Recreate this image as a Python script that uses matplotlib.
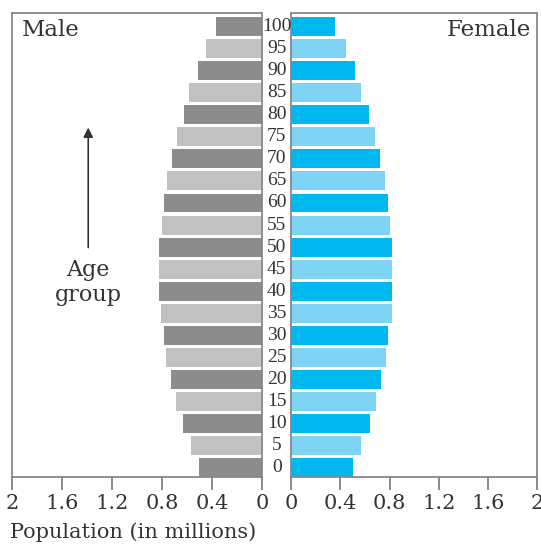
import matplotlib
matplotlib.use("Agg")
import matplotlib.pyplot as plt
import numpy as np

plt.rcParams['font.family'] = ['DejaVu Serif']

ages = [0, 5, 10, 15, 20, 25, 30, 35, 40, 45, 50, 55, 60, 65, 70, 75, 80, 85, 90, 95, 100]
male = [0.50, 0.57, 0.63, 0.69, 0.73, 0.77, 0.78, 0.81, 0.82, 0.82, 0.82,
        0.80, 0.78, 0.76, 0.72, 0.68, 0.62, 0.58, 0.51, 0.45, 0.37]
female = [0.50, 0.57, 0.64, 0.69, 0.73, 0.77, 0.79, 0.82, 0.82, 0.82, 0.82,
          0.80, 0.79, 0.76, 0.72, 0.68, 0.63, 0.57, 0.52, 0.45, 0.36]
xticks = [0, 0.4, 0.8, 1.2, 1.6, 2]
xticklabels = ['0', '0.4', '0.8', '1.2', '1.6', '2']

male_cols = ['#8c8c8e', '#c1c1c3']
female_cols = ['#00b7ef', '#7fd3f5']
txt = '#333333'

fig = plt.figure(figsize=(5.41, 5.45), dpi=100)
axL = fig.add_axes([0.0222, 0.1248, 0.462, 0.851])
axR = fig.add_axes([0.538, 0.1248, 0.455, 0.851])

y = np.arange(len(ages))
axL.barh(y, male, height=0.86, color=[male_cols[i % 2] for i in y])
axR.barh(y, female, height=0.86, color=[female_cols[i % 2] for i in y])

for ax in (axL, axR):
    ax.set_ylim(-0.43, 20.61)
    ax.set_xlim(0, 2)
    ax.set_yticks([])
    ax.set_xticks(xticks)
    ax.set_xticklabels(xticklabels)
    ax.tick_params(axis='x', direction='out', length=9, width=1.2,
                   color='#777777', labelsize=15, pad=3, labelcolor=txt)
    for s in ax.spines.values():
        s.set_color('#888888')
        s.set_linewidth(1.3)
axL.invert_xaxis()

# age labels in the gap between the two halves
for i, a in enumerate(ages):
    axR.text(-0.058, i, str(a), transform=axR.get_yaxis_transform(),
             ha='center', va='center', fontsize=14, color=txt,
             family='Liberation Serif')

axL.text(0.04, 0.963, 'Male', transform=axL.transAxes, ha='left', va='center',
         fontsize=16.5, color=txt)
axR.text(0.975, 0.963, 'Female', transform=axR.transAxes, ha='right', va='center',
         fontsize=16.5, color=txt)

axL.annotate('', xy=(1.39, 15.55), xytext=(1.39, 9.85),
             arrowprops=dict(arrowstyle='-|>', color=txt, lw=1.2,
                             mutation_scale=14))
axL.text(1.39, 8.4, 'Age\ngroup', ha='center', va='center', fontsize=16,
         color=txt, linespacing=1.2)

fig.text(0.018, 0.005, 'Population (in millions)', ha='left', va='bottom',
         fontsize=15, color=txt)

fig.savefig('out.png', dpi=100)
